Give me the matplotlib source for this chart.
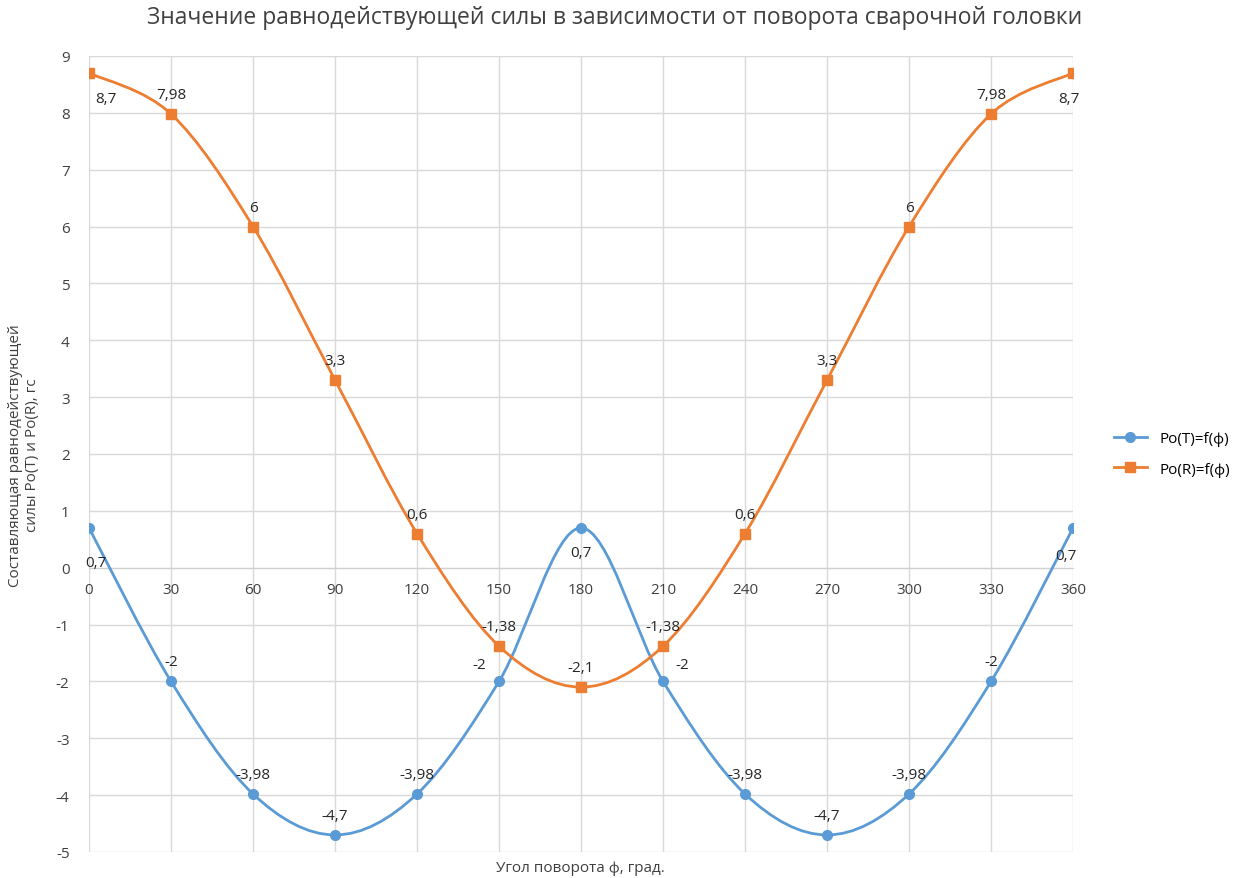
import matplotlib
matplotlib.use("Agg")
import matplotlib.pyplot as plt
import numpy as np
from matplotlib.path import Path
from matplotlib.patches import PathPatch

plt.rcParams["font.family"] = ["Open Sans", "DejaVu Sans"]
plt.rcParams["axes.unicode_minus"] = False

angles = [0, 30, 60, 90, 120, 150, 180, 210, 240, 270, 300, 330, 360]
po_t = [0.7, -2, -3.98, -4.7, -3.98, -2, 0.7, -2, -3.98, -4.7, -3.98, -2, 0.7]
po_r = [8.7, 7.98, 6, 3.3, 0.6, -1.38, -2.1, -1.38, 0.6, 3.3, 6, 7.98, 8.7]
labels_t = ["0,7", "-2", "-3,98", "-4,7", "-3,98", "-2", "0,7", "-2", "-3,98", "-4,7", "-3,98", "-2", "0,7"]
labels_r = ["8,7", "7,98", "6", "3,3", "0,6", "-1,38", "-2,1", "-1,38", "0,6", "3,3", "6", "7,98", "8,7"]

# label offsets in points (dx, dy)
off_t = [(5, -25), (0, 14), (0, 14), (0, 14), (0, 14), (-14, 12), (0, -18),
         (14, 12), (0, 14), (0, 14), (0, 14), (0, 14), (-5, -20)]
off_r = [(12, -18), (0, 14), (0, 14), (0, 14), (0, 14), (0, 14), (0, 14),
         (0, 14), (0, 14), (0, 14), (0, 14), (0, 14), (-3, -18)]

BLUE = "#5B9BD5"
ORANGE = "#ED7D31"
TEXT = "#404040"


def smooth_path(x, y):
    """Bezier path through the points, Excel-like smoothing."""
    p = np.column_stack([x, y]).astype(float)
    n = len(p)
    verts = [p[0]]
    codes = [Path.MOVETO]
    for i in range(n - 1):
        p0 = p[i - 1] if i > 0 else p[i]
        p3 = p[i + 2] if i + 2 < n else p[i + 1]
        c1 = p[i] + (p[i + 1] - p0) / 6.0
        c2 = p[i + 1] - (p3 - p[i]) / 6.0
        verts += [c1, c2, p[i + 1]]
        codes += [Path.CURVE4] * 3
    return Path(verts, codes)


fig = plt.figure(figsize=(12.45, 8.79), dpi=100)
ax = fig.add_axes([0.0715, 0.0296, 0.7904, 0.9056])

ax.set_xlim(0, 360)
ax.set_ylim(-5, 9)
ax.set_xticks(angles)
ax.set_yticks(range(-5, 10))
ax.grid(True, color="#d9d9d9", linewidth=1.0)
ax.set_axisbelow(True)
for side in ["top", "right", "left"]:
    ax.spines[side].set_visible(False)
ax.spines["bottom"].set_position(("data", 0))
ax.spines["bottom"].set_color("#d0d0d0")
ax.tick_params(length=0, labelsize=11, colors=TEXT)
ax.tick_params(axis="x", pad=10)
ax.tick_params(axis="y", pad=14)

for ys, col, mk, lab, offs, name in [
    (po_t, BLUE, "o", labels_t, off_t, "Po(T)=f(ф)"),
    (po_r, ORANGE, "s", labels_r, off_r, "Po(R)=f(ф)"),
]:
    ax.add_patch(PathPatch(smooth_path(angles, ys), facecolor="none",
                           edgecolor=col, linewidth=2.0, zorder=3))
    ax.plot(angles, ys, linestyle="none", marker=mk, markersize=7,
            color=col, zorder=4)
    ax.plot([], [], color=col, marker=mk, markersize=7, linewidth=2.0, label=name)
    for xv, yv, txt, (dx, dy) in zip(angles, ys, lab, offs):
        ax.annotate(txt, (xv, yv), xytext=(dx, dy), textcoords="offset points",
                    ha="center", va="center", fontsize=11, color="#262626", zorder=5)

ax.legend(loc="center left", bbox_to_anchor=(1.035, 0.5), frameon=False,
          fontsize=11, handlelength=2.2, labelspacing=1.0, borderaxespad=0)

fig.text(0.494, 0.979, "Значение равнодействующей силы в зависимости от поворота сварочной головки",
         ha="center", va="center", fontsize=16.5, color=TEXT)
fig.text(0.466, 0.012, "Угол поворота ф, град.", ha="center", va="center",
         fontsize=11, color=TEXT)
fig.text(0.019, 0.482, "Составляющая равнодействующей\nсилы Po(T) и Po(R), гс",
         rotation=90, ha="center", va="center", fontsize=11, color=TEXT,
         multialignment="center")

fig.savefig("out.png", dpi=100)
